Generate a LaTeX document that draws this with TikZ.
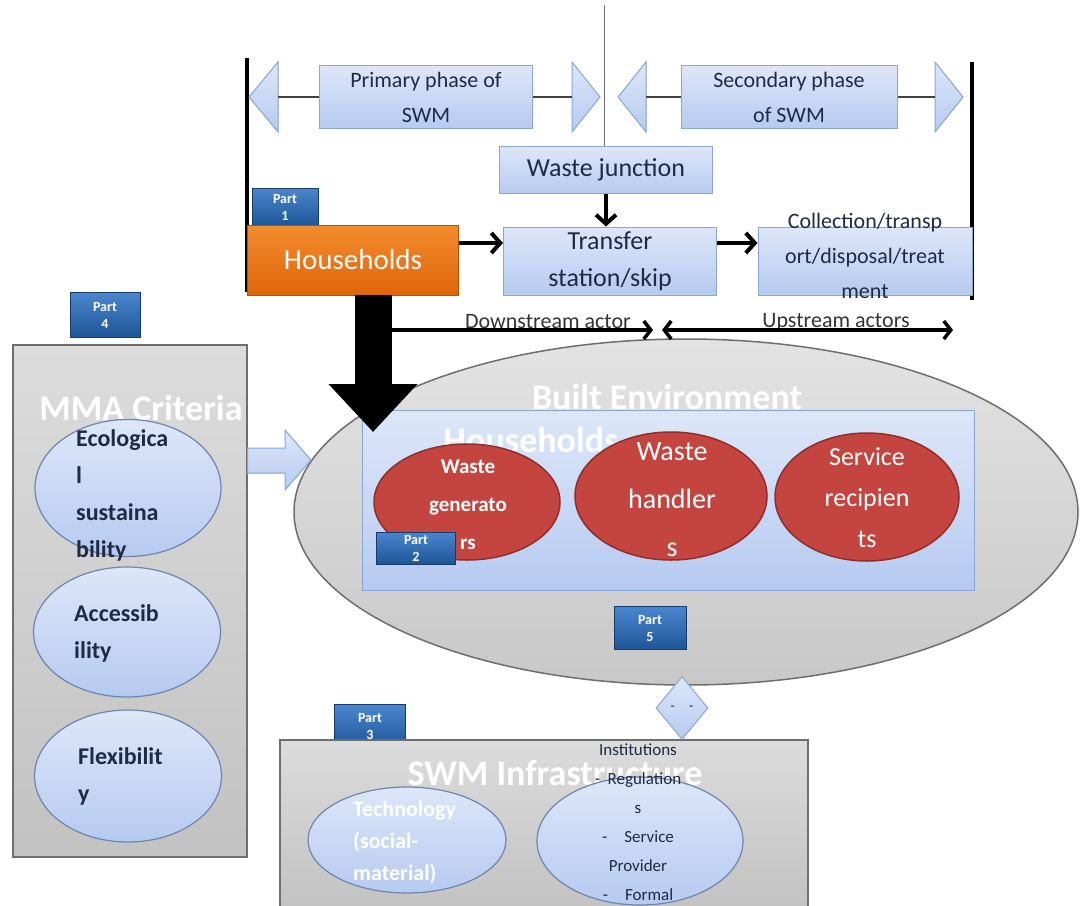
\documentclass[tikz,border=0pt]{standalone}
\usepackage{fontspec}
\setmainfont{Carlito}
\usetikzlibrary{shapes.geometric,arrows.meta}
\definecolor{lblueA}{HTML}{DDE7F9}
\definecolor{lblueB}{HTML}{B6CAF0}
\definecolor{lblueD}{HTML}{8AA6D8}
\definecolor{greyA}{HTML}{DCDCDC}
\definecolor{greyB}{HTML}{C2C2C2}
\definecolor{greyD}{HTML}{6E6E6E}
\definecolor{orangeA}{HTML}{F28C2E}
\definecolor{orangeB}{HTML}{E0650A}
\definecolor{redA}{HTML}{C4453F}
\definecolor{redD}{HTML}{8E2F2B}
\definecolor{partA}{HTML}{4A86CF}
\definecolor{partB}{HTML}{1E5597}
\definecolor{navytext}{HTML}{1F2A44}
\newcommand{\fsz}[2]{\fontsize{#1}{#2}\selectfont}

\begin{document}
\begin{tikzpicture}[x=1pt, y=-1pt,
    bluebox/.style={draw=lblueD, line width=1pt, top color=lblueA, bottom color=lblueB, text=navytext, align=center, inner sep=0pt},
    greybox/.style={draw=greyD, line width=1.2pt, top color=greyA, bottom color=greyB, inner sep=0pt},
    critell/.style={ellipse, draw=lblueD!80!black, line width=1.2pt, top color=lblueA, bottom color=lblueB, inner sep=0pt},
    actorell/.style={ellipse, draw=redD, line width=1.5pt, fill=redA, inner sep=0pt},
    partbox/.style={draw=partB!70!black, top color=partA, bottom color=partB, text=white, align=center, inner sep=0pt, font=\fsz{14}{17}\bfseries},
    whitetitle/.style={text=white, font=\fsz{36}{40}\bfseries, inner sep=0pt},
    crittext/.style={text=navytext, align=left, anchor=west, inner sep=0pt, font=\fsz{24}{37}\bfseries},
    flow/.style={line width=4pt, -{Straight Barb[length=9pt, width=20pt]}},
    actline/.style={line width=3.5pt, {Straight Barb[length=7pt, width=18pt]}-{Straight Barb[length=7pt, width=18pt]}},
    tri/.style={draw=lblueD, line width=1pt, top color=lblueA, bottom color=lblueB}
]
\useasboundingbox (0,0) rectangle (1081,905);

% top: phases of SWM
\draw[line width=4pt] (247,58) -- (247,292);
\draw[line width=4pt] (972,62) -- (972,300);
\node[bluebox, minimum width=213pt, minimum height=63pt, font=\fsz{22}{35}] (prim) at (426,97) {Primary phase of\\SWM};
\node[bluebox, minimum width=216pt, minimum height=63pt, font=\fsz{22}{35}] (sec) at (789,97) {Secondary phase\\of SWM};
\foreach \bx/\tx/\nm in {278/249/pl, 572/600/pr, 646/618/sl, 935/963/sr} {
    \filldraw[tri] (\bx,62) -- (\bx,132) -- (\tx,97) -- cycle;
    \coordinate (\nm) at (\bx,97);
}
\draw[line width=2pt, greyD!60!black] (pl) -- (prim.west);
\draw[line width=2pt, greyD!60!black] (prim.east) -- (pr);
\draw[line width=2pt, greyD!60!black] (sl) -- (sec.west);
\draw[line width=2pt, greyD!60!black] (sec.east) -- (sr);

\node[bluebox, minimum width=213pt, minimum height=47pt, font=\fsz{26}{30}] (wj) at (606,170) {Waste junction};
\coordinate (topline) at (604,5);
\draw[line width=1pt, greyD] (topline) -- (topline |- wj.north);

\node[partbox, minimum width=66pt, minimum height=38pt] (p1) at (285,207) {Part\\1};
\node[draw=orangeB!80!black, top color=orangeA, bottom color=orangeB, text=white, inner sep=0pt,
      minimum width=211pt, minimum height=70pt, font=\fsz{29}{32}] (hh) at (353,260) {Households};
\node[bluebox, minimum width=213pt, minimum height=68pt, font=\fsz{26}{37}] (ts) at (610,261) {Transfer\\station/skip};
\node[bluebox, minimum width=214pt, minimum height=68pt] (ct) at (865,261) {};
\node[text=navytext, align=center, inner sep=0pt, font=\fsz{22}{35}] (cttext) at (865,256) {Collection/transp\\ort/disposal/treat\\ment};

\coordinate (flowy) at (0,243);
\draw[flow] (wj.south) -- (wj.south |- ts.north);
\draw[flow] (hh.east |- flowy) -- (ts.west |- flowy);
\draw[flow] (ts.east |- flowy) -- (ct.west |- flowy);

% middle: built environment
\node[ellipse, draw=greyD, line width=1.5pt, top color=greyA!80, bottom color=greyB!90, inner sep=0pt,
      minimum width=784pt, minimum height=346pt] (be) at (686,512) {};
\node[whitetitle] (betitle) at (667,397) {Built Environment};
\node[bluebox, minimum width=612pt, minimum height=180pt] (hhbox) at (668,500) {};
\node[whitetitle] (hhtitle) at (531,440) {Households};
\node[actorell, minimum width=186pt, minimum height=116pt] (wg) at (467,502) {};
\node[actorell, minimum width=192pt, minimum height=128pt] (wh) at (671,496) {};
\node[actorell, minimum width=184pt, minimum height=128pt] (sv) at (867,497) {};
\node[text=white, align=center, inner sep=0pt, font=\fsz{21}{38}\bfseries] (wgtext) at (468,505) {Waste\\generato\\rs};
\node[text=white, align=center, inner sep=0pt, font=\fsz{28}{48}] (whtext) at (672,500) {Waste\\handler\\s};
\node[text=white, align=center, inner sep=0pt, font=\fsz{26}{41}] (svtext) at (867,498) {Service\\recipien\\ts};
\node[partbox, minimum width=79pt, minimum height=32pt] (p2) at (416,548) {Part\\2};
\node[partbox, minimum width=72pt, minimum height=43pt] (p5) at (650,628) {Part\\5};

% downstream / upstream actors
\node[text=black!80, inner sep=0pt, font=\fsz{22}{24}] (dslabel) at (548,322) {Downstream actor};
\node[text=black!80, inner sep=0pt, font=\fsz{22}{24}] (uslabel) at (836,322) {Upstream actors};
\coordinate (dsA) at (392,330);
\coordinate (dsB) at (653,330);
\coordinate (usA) at (662,330);
\coordinate (usB) at (953,330);
\draw[line width=3.5pt, -{Straight Barb[length=7pt, width=18pt]}] (dsA) -- (dsB);
\draw[actline] (usA) -- (usB);

% big arrow households -> built environment
\coordinate (betip) at (373,432);
\draw[line width=37pt, -{Triangle[length=48pt, width=86pt]}] (hh.south -| betip) -- (betip);

% left: MMA criteria
\node[partbox, minimum width=70pt, minimum height=45pt] (p4) at (105,315) {Part\\4};
\node[greybox, minimum width=234pt, minimum height=512pt] (mma) at (130,601) {};
\node[whitetitle] (mmatitle) at (141,408) {MMA Criteria};
\node[critell, minimum width=186pt, minimum height=137pt] (eco) at (128,488) {};
\node[critell, minimum width=187pt, minimum height=130pt] (acc) at (127,632) {};
\node[critell, minimum width=187pt, minimum height=132pt] (flx) at (128,776) {};
\node[crittext] (ecotext) at (76,495) {Ecologica\\l\\sustaina\\bility};
\node[crittext] (acctext) at (74,633) {Accessib\\ility};
\node[crittext] (flxtext) at (78,776) {Flexibilit\\y};
\filldraw[tri] (mma.east |- 0,448) -- (285,448) -- (285,430) -- (311,460) -- (285,490) -- (285,473) -- (mma.east |- 0,473) -- cycle;

% bottom: SWM infrastructure
\node[partbox, minimum width=71pt, minimum height=43pt] (p3) at (370,726) {Part\\3};
\node[greybox, minimum width=528pt, minimum height=170pt] (infra) at (544,825) {};
\node[whitetitle] (infratitle) at (555,773) {SWM Infrastructure};
\node[critell, minimum width=198pt, minimum height=106pt] (tech) at (407,840) {};
\node[critell, minimum width=206pt, minimum height=128pt] (inst) at (640,841) {};
\node[text=white, align=left, anchor=west, inner sep=0pt, font=\fsz{22}{32}\bfseries] (techtext) at (353,842) {Technology\\(social-\\material)};
\node[text=navytext, align=center, inner sep=0pt, font=\fsz{17}{29}] (insttext) at (638,822)
    {Institutions\\-\ \ Regulation\\s\\-\quad Service\\Provider\\-\quad Formal};
\node[diamond, draw=lblueD, line width=1pt, top color=lblueA, bottom color=lblueB, inner sep=0pt, aspect=0.8,
      minimum width=52pt, minimum height=63pt, font=\fsz{14}{16}, text=navytext] (dia) at (682,708) {-\hspace{14pt}-};
\end{tikzpicture}
\end{document}
